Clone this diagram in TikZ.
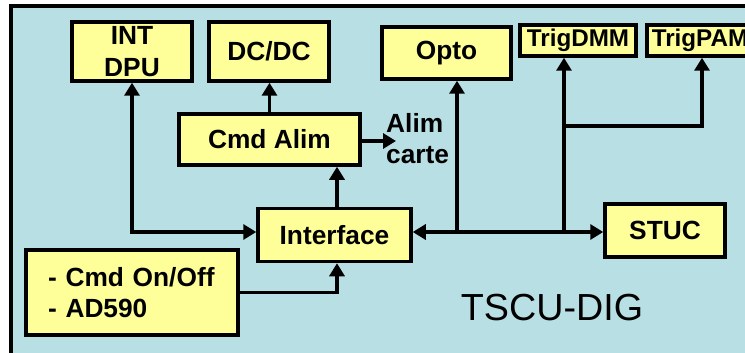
\documentclass[tikz,border=0pt]{standalone}
\usepackage{fontspec}
\setmainfont{Liberation Sans}
\usetikzlibrary{arrows.meta}
\definecolor{bgblue}{RGB}{184,223,227}
\definecolor{boxyellow}{RGB}{255,255,153}
\begin{document}
\begin{tikzpicture}[x=1pt,y=-1pt,
		box/.style={draw,line width=3.5pt,fill=boxyellow,inner sep=0pt,align=center,
			font=\bfseries\fontsize{26.3}{32}\selectfont},
		trigbox/.style={box,font=\bfseries\fontsize{24.2}{28}\selectfont},
		link/.style={line width=3.5pt},
		>={Triangle[length=13pt,width=15pt]}]

		\path[use as bounding box] (0,0) rectangle (745,353);
		\clip (0,0) rectangle (745,353);
		\fill[bgblue] (11,6) rectangle (770,370);
		\draw[line width=4pt] (11,6) rectangle (770,370);

		\node[box,minimum width=120,minimum height=59] (intdpu) at (132,51.5) {INT\\DPU};
		\node[box,minimum width=120,minimum height=59] (dcdc) at (269,51.5) {DC/DC};
		\node[box,minimum width=181,minimum height=51] (cmdalim) at (269.5,139.5) {Cmd Alim};
		\node[box,minimum width=129,minimum height=52] (opto) at (446.5,53) {Opto};
		\node[trigbox,minimum width=116,minimum height=31] (trigdmm) at (578,40.5) {TrigDMM};
		\node[trigbox,minimum width=106,minimum height=31] (trigpam) at (700,40.5) {TrigPAM};
		\node[box,minimum width=153,minimum height=53] (iface) at (334.5,235) {Interface};
		\node[box,minimum width=120,minimum height=53] (stuc) at (665,230.5) {STUC};
		\node[box,align=left,inner xsep=22pt,text width=168,minimum height=85,
			font=\bfseries\fontsize{26.3}{31}\selectfont] (cmdonoff) at (132,292.5)
			{- Cmd On/Off\\- AD590};

		\node[anchor=west,inner sep=0pt,align=left,font=\bfseries\fontsize{26.3}{31}\selectfont]
			(alimcarte) at (386,138.5) {Alim\\carte};
		\node[inner sep=0pt,font=\fontsize{37.7}{42}\selectfont] (tscudig) at (552,307.5) {TSCU-DIG};

		\coordinate (bus) at (0,232);
		\coordinate (upx) at (337,0);
		\coordinate (optox) at (457,0);
		\coordinate (trigx) at (564,0);
		\coordinate (pamx) at (702,126);
		\coordinate (alimtip) at (396,141);

		\draw[link,<->] (intdpu.south) |- (iface.west |- bus);
		\draw[link,->] (cmdalim.north) -- (cmdalim.north |- dcdc.south);
		\draw[link,->] (iface.north -| upx) -- (cmdalim.south -| upx);
		\draw[link,->] (cmdalim.east |- alimtip) -- (alimtip);
		\draw[link,->] (cmdonoff.east) -| (iface.south -| upx);
		\draw[link,<->] (iface.east |- bus) -- (stuc.west |- bus);
		\draw[link,->] (optox |- bus) -- (optox |- opto.south);
		\draw[link,->] (trigx |- bus) -- (trigx |- trigdmm.south);
		\draw[link,->] (trigx |- pamx) -| (pamx |- trigpam.south);

	\end{tikzpicture}
\end{document}
